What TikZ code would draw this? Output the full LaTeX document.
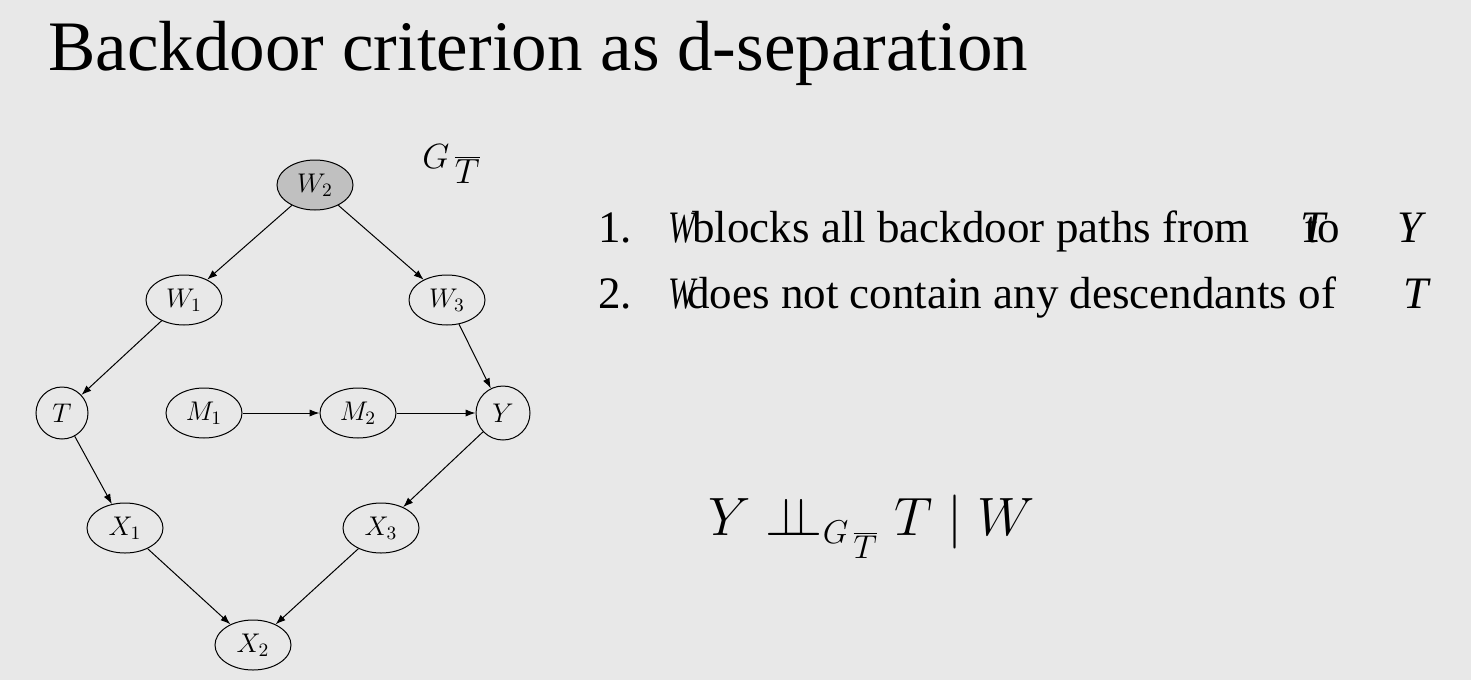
\documentclass[tikz,border=0pt]{standalone}
\usepackage{fix-cm}
\usepackage{graphicx}
\usepackage{fontspec}
\setmainfont{Liberation Serif}
\usetikzlibrary{arrows.meta,shapes.geometric}
\definecolor{slidebg}{RGB}{232,232,232}
\definecolor{shaded}{RGB}{192,192,192}
\DeclareMathSizes{27}{27}{16.5}{12}
\newcommand{\slidevar}[1]{\textit{#1}}

\begin{document}
\begin{tikzpicture}[
    x=.5pt,y=-.5pt,
    var/.style={draw,ellipse,line width=.5pt,minimum width=38pt,minimum height=25pt,
      inner sep=0pt,font=\fontsize{13.5}{16}\selectfont},
    round var/.style={draw,circle,line width=.5pt,minimum size=26pt,
      inner sep=0pt,font=\fontsize{13.5}{16}\selectfont},
    observed/.style={fill=shaded},
    arc/.style={-{Latex[length=5pt,width=3.6pt]},line width=.5pt},
    slide text/.style={anchor=base west,inner sep=0pt,font=\fontsize{22.5}{27}\selectfont}
  ]
    % Slide background fixes the page size.
    \fill[slidebg] (0,0) rectangle (1471,680);

    \node[anchor=base west,inner sep=0pt,font=\fontsize{35.5}{40}\selectfont] (title)
      at (48,70) {Backdoor criterion as d-separation};

    % The causal graph.
    \node[var,observed] (W2) at (315,185) {$W_2$};
    \node[var] (W1) at (184,300) {$W_1$};
    \node[var] (W3) at (447,300) {$W_3$};
    \node[round var] (T) at (62,413) {$T$};
    \node[var] (M1) at (204,413) {$M_1$};
    \node[var] (M2) at (358,413) {$M_2$};
    \node[round var,minimum size=27pt] (Y) at (503,413) {$Y$};
    \node[var] (X1) at (125,528) {$X_1$};
    \node[var] (X3) at (381,528) {$X_3$};
    \node[var] (X2) at (253,645) {$X_2$};

    \draw[arc] (W2) -- (W1);
    \draw[arc] (W2) -- (W3);
    \draw[arc] (W1) -- (T);
    \draw[arc] (W3) -- (Y);
    \draw[arc] (M1) -- (M2);
    \draw[arc] (M2) -- (Y);
    \draw[arc] (T) -- (X1);
    \draw[arc] (Y) -- (X3);
    \draw[arc] (X1) -- (X2);
    \draw[arc] (X3) -- (X2);

    \node[anchor=base west,inner sep=0pt,font=\fontsize{17.5}{20}\selectfont] (graph)
      at (422,168) {$G_{\mkern4mu\overline{\textstyle T}}$};

    % The two conditions, placed piece by piece as on the slide.
    \node[slide text] (n1) at (598,242) {1.};
    \node[slide text] (w1) at (668,242) {\scalebox{.72}[1]{\slidevar{W}}};
    \node[slide text] (c1) at (692,242) {blocks all backdoor paths from};
    \node[slide text] (t1) at (1300,242) {\slidevar{T}};
    \node[slide text] (to) at (1305,242) {to};
    \node[slide text] (y1) at (1397,242) {\slidevar{Y}};

    \node[slide text] (n2) at (598,308) {2.};
    \node[slide text] (w2) at (668,308) {\scalebox{.72}[1]{\slidevar{W}}};
    \node[slide text] (c2) at (687,308) {does not contain any descendants of};
    \node[slide text] (t2) at (1403,308) {\slidevar{T}};

    % d-separation statement.
    \node[anchor=base west,inner sep=0pt,font=\fontsize{27}{32}\selectfont] (dsep)
      at (708,535) {$Y \perp\!\!\!\perp_{G_{\mkern4mu\overline{\scriptstyle T}}} T \mid W$};
  \end{tikzpicture}
\end{document}
